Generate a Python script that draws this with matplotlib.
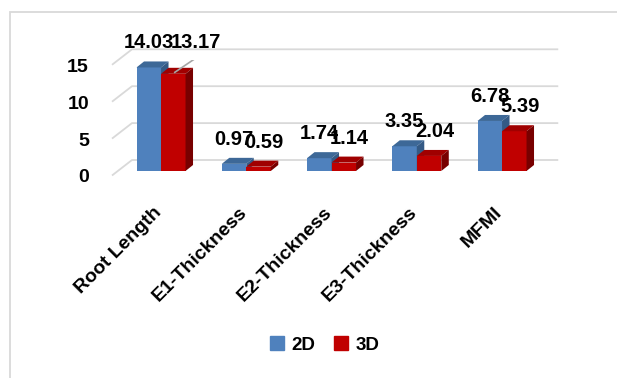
import matplotlib.pyplot as plt
from matplotlib.patches import Polygon, Patch, Rectangle
from matplotlib.transforms import ScaledTranslation

# data
categories = ['Root Length', 'E1-Thickness', 'E2-Thickness', 'E3-Thickness', 'MFMI']
values_2d = [14.03, 0.97, 1.74, 3.35, 6.78]
values_3d = [13.17, 0.59, 1.14, 2.04, 5.39]
y_ticks = [0, 5, 10, 15]

FONT = 'Liberation Sans'
plt.rcParams['font.family'] = [FONT, 'DejaVu Sans']
plt.rcParams['font.weight'] = 'bold'

W, H = 617, 378
fig = plt.figure(figsize=(W / 100, H / 100), dpi=100)
# axes = plane of the bar front faces
ax = fig.add_axes([118.4 / W, 207 / H, 426.25 / W, 110.7 / H])
ax.set_xlim(0, 5)
ax.set_ylim(0, 15)
for s in ax.spines.values():
    s.set_visible(False)

PX = 5 / 426.25   # x units per pixel
PY = 15 / 110.7   # y units per pixel
bw = 24.5 * PX
dx, dy = 7.5 * PX, 6 * PY

# fake 3d walls: gridlines running from the front floor to the back wall
fx, fy = -6.4 * PX, -4.5 * PY
bx, by = 13.6 * PX, 11 * PY
for v in y_ticks:
    ax.plot([fx, bx, 5 + bx], [v + fy, v + by, v + by], color='#d9d9d9',
            lw=1.3, zorder=1, clip_on=False, solid_capstyle='butt')


def bar3d(x0, h, front, top, side):
    ax.bar(x0, h, width=bw, align='edge', color=front, zorder=3, lw=0)
    ax.add_patch(Polygon([(x0, h), (x0 + bw, h), (x0 + bw + dx, h + dy), (x0 + dx, h + dy)],
                         closed=True, fc=top, ec='none', zorder=3, clip_on=False))
    ax.add_patch(Polygon([(x0 + bw, 0), (x0 + bw + dx, dy), (x0 + bw + dx, h + dy), (x0 + bw, h)],
                         closed=True, fc=side, ec='none', zorder=3, clip_on=False))


for i in range(len(categories)):
    c = i + 0.5
    bar3d(c - bw, values_2d[i], '#4f81bd', '#3d6897', '#345a85')
    bar3d(c, values_3d[i], '#c00000', '#a00000', '#780000')

lab_kw = dict(ha='center', va='baseline', fontsize=14.5, fontweight='bold', zorder=10)
for i in range(len(categories)):
    c = i + 0.5
    v2, v3 = values_2d[i], values_3d[i]
    y2 = v2 + dy + 13 * PY
    ax.text(c - bw / 2 + dx / 2 - 4 * PX, y2, f'{v2:.2f}', **lab_kw)
    if i == 0:
        # label moved by hand, with a leader line
        x3 = c + bw / 2 + dx / 2 + 19 * PX
        ax.plot([c + 1.5 * PX + bw / 2, c + bw / 2 + 21.5 * PX],
                [v3 + 0.2, v3 + 15 * PY], color='#a6a6a6', lw=1.2, zorder=9)
        ax.text(x3, y2, f'{v3:.2f}', **lab_kw)
    else:
        y3 = v3 + dy + 13 * PY
        ax.text(c + bw / 2 + dx / 2 + 2 * PX, y3, f'{v3:.2f}', **lab_kw)

ax.set_yticks(y_ticks)
ax.set_yticklabels([str(t) for t in y_ticks], fontsize=14, fontweight='bold')
ax.set_xticks([i + 0.5 for i in range(len(categories))])
ax.set_xticklabels(categories, rotation=45, ha='right', va='center',
                   rotation_mode='anchor', fontsize=14, fontweight='bold')
ax.tick_params(axis='y', length=0, pad=21.2)
ax.tick_params(axis='x', length=0, pad=28)
for lab in ax.get_yticklabels():
    lab.set_transform(lab.get_transform() + ScaledTranslation(0, -0.05, fig.dpi_scale_trans))
for lab in ax.get_xticklabels():
    lab.set_transform(lab.get_transform() + ScaledTranslation(-0.02, 0, fig.dpi_scale_trans))

handles = [Patch(color='#4f81bd', label='2D'), Patch(color='#c00000', label='3D')]
fig.legend(handles=handles, loc='center', bbox_to_anchor=(324.5 / W, 33 / H), ncol=2,
           frameon=False, prop={'family': FONT, 'weight': 'bold', 'size': 13.5},
           handlelength=0.75, handleheight=0.75, handletextpad=0.4, columnspacing=1.0)

# chart border (cropped on the right and bottom)
fig.add_artist(Rectangle((10 / W, -0.1), 1.2, 1 - 12 / H + 0.1, transform=fig.transFigure,
                         fill=False, edgecolor='#d9d9d9', lw=1.3))

fig.savefig('out.png', dpi=100)
